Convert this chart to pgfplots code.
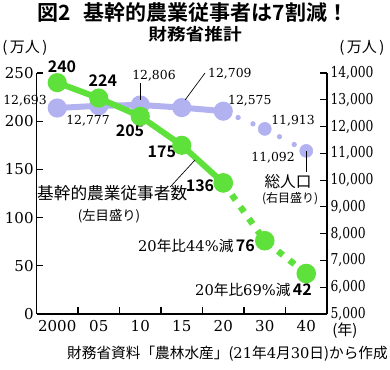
\documentclass[border=0pt]{standalone}
\usepackage{pgfplots}
\pgfplotsset{compat=1.18}
\usepackage{pgfplotstable}
\usepackage{fontspec}
\setmainfont{DejaVu Serif}
\newfontfamily\jp{Noto Sans CJK JP}
\newfontfamily\jpb{Noto Sans CJK JP Bold}
\definecolor{grn}{RGB}{95,225,60}
\definecolor{pur}{RGB}{178,178,240}
\newcommand\bnum{\jpb\fontsize{12}{12}\selectfont}
\newcommand\vnum{\rmfamily\fontsize{9.3}{10}\selectfont}

\pgfplotstableread{
x v
0 240
1 224
2 205
3 175
4 136
}\gsolid
\pgfplotstableread{
x v
4 136
5 76
6 42
}\gdash
\pgfplotstableread{
x v
0 12693
1 12777
2 12806
3 12709
4 12575
}\psolid
\pgfplotstableread{
x v
4 12575
5 11913
}\pdotA
\pgfplotstableread{
x v
5 11913
6 11092
}\pdotB

\begin{document}
\begin{tikzpicture}
\useasboundingbox (-27.375pt,-41.25pt) rectangle (265.125pt,235.5pt);
% right axis (population)
\begin{axis}[
  at={(0,0)}, anchor=south west,
  scale only axis, width=217.9pt, height=180.75pt,
  xmin=-0.5, xmax=6.5, ymin=5000, ymax=14000,
  axis x line=none, axis y line*=right,
  scaled y ticks=false,
  ytick={5000,6000,7000,8000,9000,10000,11000,12000,13000,14000},
  yticklabels={{5,000},{6,000},{7,000},{8,000},{9,000},{10,000},{11,000},{12,000},{13,000},{14,000}},
  yticklabel style={font=\rmfamily\fontsize{11.25}{12}\selectfont, xscale=0.82, inner sep=1pt, xshift=2pt},
  tick align=inside, major tick length=5pt,
  axis line style={line width=0.8pt}, tick style={line width=0.8pt, black},
  clip=false,
]
\addplot[pur, line width=4.5pt, mark=*, mark size=4.9pt, mark options={fill=pur, draw=pur}] table[x=x,y=v]{\psolid};
\addplot[pur, line width=4pt, line cap=round, dash pattern=on 0pt off 12.1pt] table[x=x,y=v]{\pdotA};
\addplot[pur, line width=4pt, line cap=round, dash pattern=on 0pt off 12.5pt] table[x=x,y=v]{\pdotB};
\addplot[pur, only marks, mark=*, mark size=4.9pt, mark options={fill=pur, draw=pur}] table[x=x,y=v]{\pdotB};
\end{axis}
% left axis (farm workers)
\begin{axis}[
  at={(0,0)}, anchor=south west,
  scale only axis, width=217.9pt, height=180.75pt,
  xmin=-0.5, xmax=6.5, ymin=0, ymax=250,
  axis x line*=bottom, axis y line*=left,
  xtick={0,1,2,3,4,5,6},
  xticklabels={2000,05,10,15,20,30,40},
  minor xtick={0.5,1.5,2.5,3.5,4.5,5.5},
  ytick={0,50,100,150,200,250},
  /pgf/number format/assume math mode=true,
  ticklabel style={font=\rmfamily\fontsize{11.25}{12}\selectfont},
  yticklabel style={inner sep=1pt, xshift=-1pt},
  xticklabel style={yshift=-1pt},
  tick align=inside, major tick length=5pt, minor tick length=5pt,
  xtick style={draw=none}, minor x tick style={draw=black, line width=0.8pt},
  axis line style={line width=0.8pt}, tick style={line width=0.8pt, black},
  clip=false,
]
\addplot[grn, line width=4.5pt, mark=*, mark size=4.9pt, mark options={fill=grn, draw=grn}] table[x=x,y=v]{\gsolid};
\addplot[grn, line width=4.8pt, dash pattern=on 4.8pt off 6.2pt, mark=*, mark size=4.9pt, mark options={solid, fill=grn, draw=grn}] table[x=x,y=v]{\gdash};

% leader lines
\draw[line width=0.5pt] (axis cs:2.0,222) -- (axis cs:2.0,240);
\draw[line width=0.5pt] (axis cs:3.08,222) -- (axis cs:3.56,250);
\draw[line width=0.5pt] (axis cs:6.0,169) -- (axis cs:6.0,147);
\draw[line width=0.5pt] (axis cs:2.72,131.7) -- (axis cs:3.32,159.8);

% green value labels
\node at (axis cs:0.114,257) {\bnum 240};
\node at (axis cs:1.10,241.7) {\bnum 224};
\node at (axis cs:1.753,189.8) {\bnum 205};
\node at (axis cs:2.52,168) {\bnum 175};
\node at (axis cs:3.44,132.8) {\bnum 136};
\node[anchor=east, inner sep=0pt] at (axis cs:4.765,70.5) {\fontsize{11}{12}\selectfont 20{\jp 年比}44\%{\jp 減}\,{\bnum 76}};
\node[anchor=east, inner sep=0pt] at (axis cs:6.14,24.9) {\fontsize{11}{12}\selectfont 20{\jp 年比}69\%{\jp 減}\,{\bnum 42}};

% population labels
\node at (axis cs:-0.777,221) {\vnum 12,693};
\node at (axis cs:0.741,200.2) {\vnum 12,777};
\node at (axis cs:2.33,247) {\vnum 12,806};
\node at (axis cs:4.16,249) {\vnum 12,709};
\node at (axis cs:4.64,221) {\vnum 12,575};
\node at (axis cs:5.68,200.2) {\vnum 11,913};
\node at (axis cs:5.2,161.8) {\vnum 11,092};

% series names
\node at (axis cs:5.56,137) {\jp\fontsize{11.75}{12}\selectfont 総人口};
\node at (axis cs:5.61,119.3) {\jp\fontsize{9}{10}\selectfont (右目盛り)};
\node[anchor=west, inner sep=0pt] at (axis cs:-0.49,125.5) {\jp\fontsize{12.5}{13}\selectfont 基幹的農業従事者数};
\node at (axis cs:1.247,101.7) {\jp\fontsize{10}{11}\selectfont (左目盛り)};

% units
\node at (axis cs:-0.777,276) {\jp\fontsize{11.25}{12}\selectfont (\,万人\,)};
\node at (axis cs:7.34,276) {\jp\fontsize{11.25}{12}\selectfont (\,万人\,)};
\node at (axis cs:6.93,-17) {\jp\fontsize{11.25}{12}\selectfont (年)};

% titles
\node at (axis cs:3.27,313) {\jpb\fontsize{15.75}{16}\selectfont 図2\hspace{0.6em}基幹的農業従事者は7割減！};
\node[xscale=1.12] at (axis cs:3.32,290.5) {\jpb\fontsize{12.5}{13}\selectfont 財務省推計};
\node[anchor=east, inner sep=0pt] at (axis cs:7.97,-41.5) {\jp\fontsize{11}{12}\selectfont 財務省資料「農林水産」({\rmfamily 21}年{\rmfamily 4}月{\rmfamily 30}日)から作成};
\end{axis}
\end{tikzpicture}
\end{document}
